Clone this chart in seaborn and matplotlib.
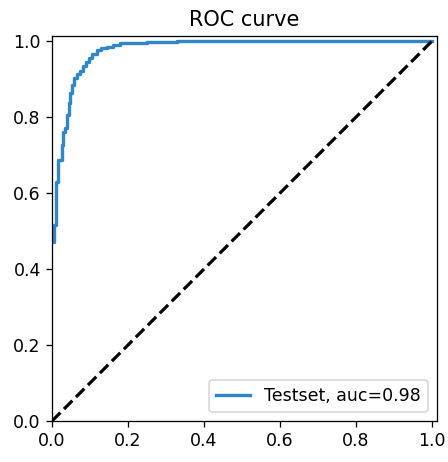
import matplotlib
matplotlib.use("Agg")
import matplotlib.pyplot as plt
import seaborn as sns
import pandas as pd

# ==========================================
# Data
# ==========================================
fpr = [0.0, 0.004, 0.004, 0.011, 0.011, 0.016, 0.016, 0.026, 0.026,
       0.030, 0.030, 0.035, 0.035, 0.039, 0.039, 0.044, 0.044, 0.048, 0.048,
       0.053, 0.053, 0.057, 0.057, 0.066, 0.066, 0.074, 0.074, 0.082, 0.082,
       0.090, 0.090, 0.098, 0.098, 0.106, 0.106, 0.118, 0.118, 0.130, 0.130,
       0.144, 0.144, 0.160, 0.160, 0.179, 0.179, 0.249, 0.249, 0.328, 0.328,
       1.0]
tpr = [0.470, 0.470, 0.516, 0.516, 0.630, 0.630, 0.687, 0.687, 0.726,
       0.726, 0.761, 0.761, 0.770, 0.770, 0.805, 0.805, 0.837, 0.837, 0.862,
       0.862, 0.885, 0.885, 0.902, 0.902, 0.912, 0.912, 0.922, 0.922, 0.934,
       0.934, 0.945, 0.945, 0.955, 0.955, 0.966, 0.966, 0.976, 0.976, 0.981,
       0.981, 0.985, 0.985, 0.989, 0.989, 0.994, 0.994, 0.998, 0.998, 1.0,
       1.0]
auc_label = "Testset, auc=0.98"
diag = [0.0, 1.0]

df = pd.DataFrame({"fpr": fpr, "tpr": tpr})

dpi = 115
plt.rcParams["font.size"] = 10.9
fig = plt.figure(figsize=(448 / dpi, 462 / dpi), dpi=dpi)
ax = fig.add_axes([52 / 448, 1 - 421 / 462, (436.7 - 52) / 448, (421 - 36) / 462])

sns.lineplot(data=df, x="fpr", y="tpr", sort=False, estimator=None,
             color="#2f86c8", linewidth=2.1, label=auc_label, ax=ax)
ax.plot(diag, diag, "k--", linewidth=2.0)

ax.set_xlim(0, 1.012)
ax.set_ylim(0, 1.013)
ax.set_xlabel("")
ax.set_ylabel("")
ax.set_title("ROC curve", fontsize=13.1)
ax.legend(loc="lower right")

fig.savefig("out.png", dpi=dpi)
